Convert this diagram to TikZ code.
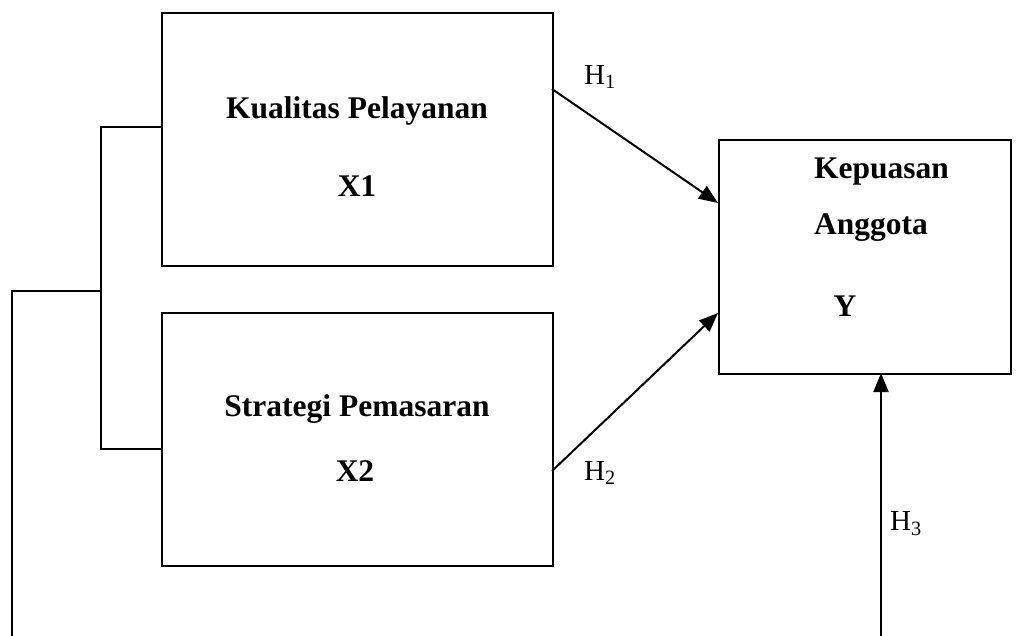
\documentclass[tikz,border=0pt]{standalone}
\usepackage{fontspec}
\setmainfont{Liberation Serif}
\usetikzlibrary{arrows.meta}
\begin{document}
\begin{tikzpicture}[x=1pt,y=-1pt,
  box/.style={draw,line width=1.6pt,minimum width=#1,inner sep=0pt,anchor=north west},
  lbl/.style={font=\fontsize{31.5}{36}\selectfont\bfseries,inner sep=0pt},
  hyp/.style={font=\fontsize{29}{34}\selectfont,inner sep=0pt},
  conn/.style={line width=1.6pt},
  arr/.style={line width=2pt,-{Triangle[length=19pt,width=15pt]}}]
\useasboundingbox (0,0) rectangle (1019,635);
\node[box=391pt,minimum height=253pt] (x1) at (161,12) {};
\node[box=391pt,minimum height=253pt] (x2) at (161,312) {};
\node[box=292pt,minimum height=234pt] (y) at (718,139) {};
\node[lbl] (t1) at (357,111) {Kualitas Pelayanan};
\node[lbl] (t1b) at (357,186) {X1};
\node[lbl] (t2) at (357,409) {Strategi Pemasaran};
\node[lbl] (t2b) at (355,471) {X2};
\node[lbl,anchor=west] (t3) at (814,172) {Kepuasan};
\node[lbl,anchor=west] (t3b) at (814,228) {Anggota};
\node[lbl] (t3c) at (845,306) {Y};
\node[hyp] (h1) at (600,77) {H\textsubscript{1}};
\node[hyp] (h2) at (600,473) {H\textsubscript{2}};
\node[hyp] (h3) at (906,524) {H\textsubscript{3}};
\coordinate (a1) at (161,127);
\coordinate (a2) at (161,449);
\coordinate (b1) at (101,127);
\coordinate (b2) at (101,449);
\coordinate (m) at (101,291);
\coordinate (l) at (12,291);
\coordinate (lb) at (12,636);
\coordinate (yb) at (881,636);
\coordinate (s1) at (552,89);
\coordinate (e1) at (718,203);
\coordinate (s2) at (552,471);
\coordinate (e2) at (718,313);
\draw[conn] (a1) -- (b1) -- (b2) -- (a2);
\draw[conn] (m) -- (l) -- (lb);
\draw[arr] (s1) -- (e1);
\draw[arr] (s2) -- (e2);
\draw[arr] (yb) -- (881,373);
\end{tikzpicture}
\end{document}
